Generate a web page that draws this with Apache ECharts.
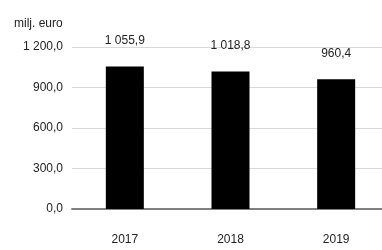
<!DOCTYPE html>
<html>
<head>
<meta charset="utf-8">
<script src="https://cdn.jsdelivr.net/npm/echarts@6/dist/echarts.min.js"></script>
<style>
  html, body { margin: 0; padding: 0; background: #fff; overflow: hidden; }
  #chart { width: 389px; height: 250px; }
</style>
</head>
<body>
<div id="chart"></div>
<script>
const years = ['2017', '2018', '2019']
const values = [1055.9, 1018.8, 960.4]
const yTicks = [0, 300, 600, 900, 1200]

const fmt = v => {
  const s = v.toFixed(1).replace('.', ',')
  const [int, dec] = s.split(',')
  return int.replace(/\B(?=(\d{3})+(?!\d))/g, ' ') + ',' + dec
}

const chart = echarts.init(document.getElementById('chart'))
chart.setOption({
  animation: false,
  textStyle: { fontFamily: 'Liberation Sans, Arial, sans-serif' },
  grid: { left: 72, right: 0, top: 47, bottom: 41 },
  xAxis: {
    type: 'category',
    data: years,
    axisTick: { show: false },
    axisLine: { lineStyle: { color: '#808080', width: 2 } },
    axisLabel: { color: '#222', fontSize: 12, margin: 25 }
  },
  yAxis: {
    type: 'value',
    min: yTicks[0],
    max: yTicks[yTicks.length - 1],
    interval: 300,
    name: 'milj. euro',
    nameLocation: 'end',
    nameGap: 17,
    nameTextStyle: { color: '#222', fontSize: 12, align: 'left', padding: [0, 0, 0, -58] },
    axisLine: { show: false },
    axisTick: { show: false },
    splitLine: { lineStyle: { color: '#d9d9d9' } },
    axisLabel: { color: '#222', fontSize: 12, margin: 9, formatter: v => fmt(v) }
  },
  series: [{
    type: 'bar',
    data: values,
    barWidth: 38,
    itemStyle: { color: '#000' },
    label: {
      show: true,
      position: 'top',
      distance: 20,
      color: '#222',
      fontSize: 12,
      formatter: p => fmt(p.value)
    }
  }]
})
</script>
</body>
</html>
